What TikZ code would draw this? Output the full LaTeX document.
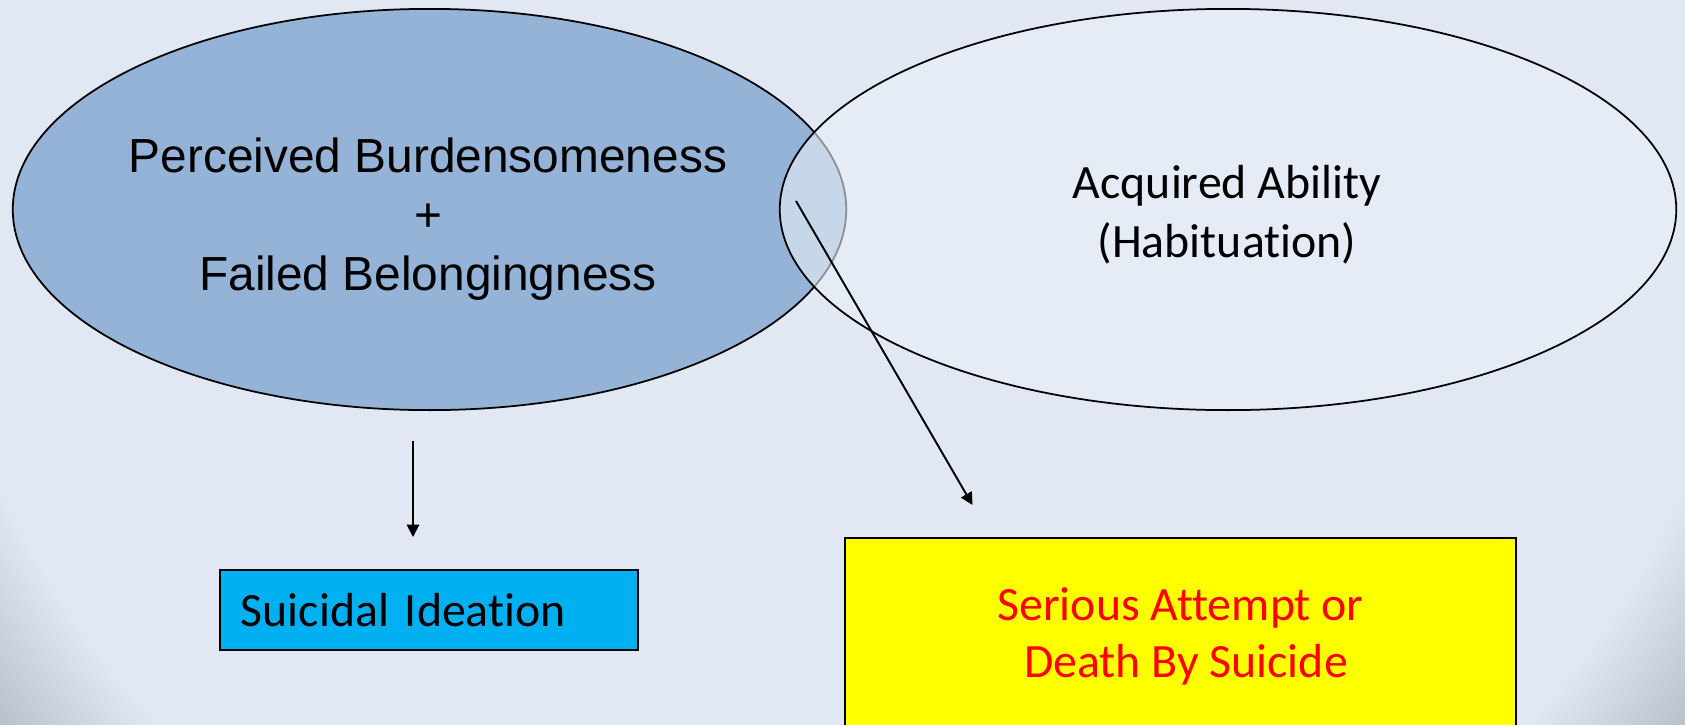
\documentclass[tikz,border=0pt]{standalone}
\usepackage{fontspec}
\usepackage{tikz}
\usetikzlibrary{shapes.geometric,arrows.meta}
\newfontfamily\arialfont{Liberation Sans}
\newfontfamily\calibrifont{Carlito}[Ligatures=NoCommon]
\definecolor{bgmain}{HTML}{E1E8F4}
\definecolor{bgdark}{HTML}{AEB6C2}
\definecolor{burdenblue}{HTML}{95B3D7}
\definecolor{abilityfill}{HTML}{E9EFF8}
\definecolor{ideationcyan}{HTML}{00B0F0}
\definecolor{attemptyellow}{RGB}{255,255,0}
\definecolor{attemptred}{RGB}{255,0,0}
\pgfdeclareradialshading{slideglow}{\pgfpoint{0bp}{0bp}}{color(0bp)=(bgmain); color(21.4bp)=(bgmain); color(25bp)=(bgdark); color(50bp)=(bgdark)}

\begin{document}
\begin{tikzpicture}
  [
    x=0.01cm, y=-0.01cm,
    oval style/.style={ellipse, draw=black, line width=0.5pt, inner sep=0pt, minimum height=4.01cm},
    box style/.style={rectangle, draw=black, line width=0.6pt, inner sep=0pt},
    link style/.style={-{Triangle[length=3.5pt,width=3.5pt]}, line width=0.55pt},
    arial text/.style={font=\arialfont\fontsize{13.6pt}{16.8pt}\selectfont, align=center},
    calibri text/.style={font=\calibrifont\fontsize{13.6pt}{16.2pt}\selectfont}
  ]
  \useasboundingbox (0,0) rectangle (1685,724);
  \begin{scope}
    \clip (0,0) rectangle (1685,724);
    \fill[bgmain] (0,0) rectangle (1685,724);
    \shade[shading=slideglow] (842,100) circle (10.8cm);
    % box runs off the bottom edge
    \node[box style, calibri text, fill=attemptyellow, text=attemptred, align=center, minimum width=6.71cm, minimum height=1.96cm, anchor=north] (attempt) at (1180.5,537) {Serious Attempt or\\\hspace*{0.23em}Death By Suicide};
  \end{scope}
  \node[oval style, fill=burdenblue, minimum width=8.33cm] (burden) at (429.5,209.5) {};
  \node[oval style, fill=abilityfill, fill opacity=0.6, minimum width=8.96cm] (ability) at (1228,209.5) {};
  \node[arial text] (burdenText) at (428,219) {Perceived Burdensomeness\\+\\Failed Belongingness};
  \node[calibri text, font=\calibrifont\fontsize{13.6pt}{16.8pt}\selectfont, align=center] (abilityText) at (1227,215) {Acquired Ability\\(Habituation)};
  \node[box style, calibri text, fill=ideationcyan, minimum width=4.18cm, minimum height=0.8cm, text width=3.76cm, inner xsep=0.21cm, align=left] (ideation) at (429,610) {Suicidal Ideation};
  \coordinate (ideaFrom) at (413,441);
  \coordinate (ideaTo) at (413,537);
  \draw[link style] (ideaFrom) -- (ideaTo);
  \coordinate (attemptFrom) at (796,201);
  \coordinate (attemptTo) at (972.5,505);
  \draw[link style] (attemptFrom) -- (attemptTo);
\end{tikzpicture}
\end{document}
